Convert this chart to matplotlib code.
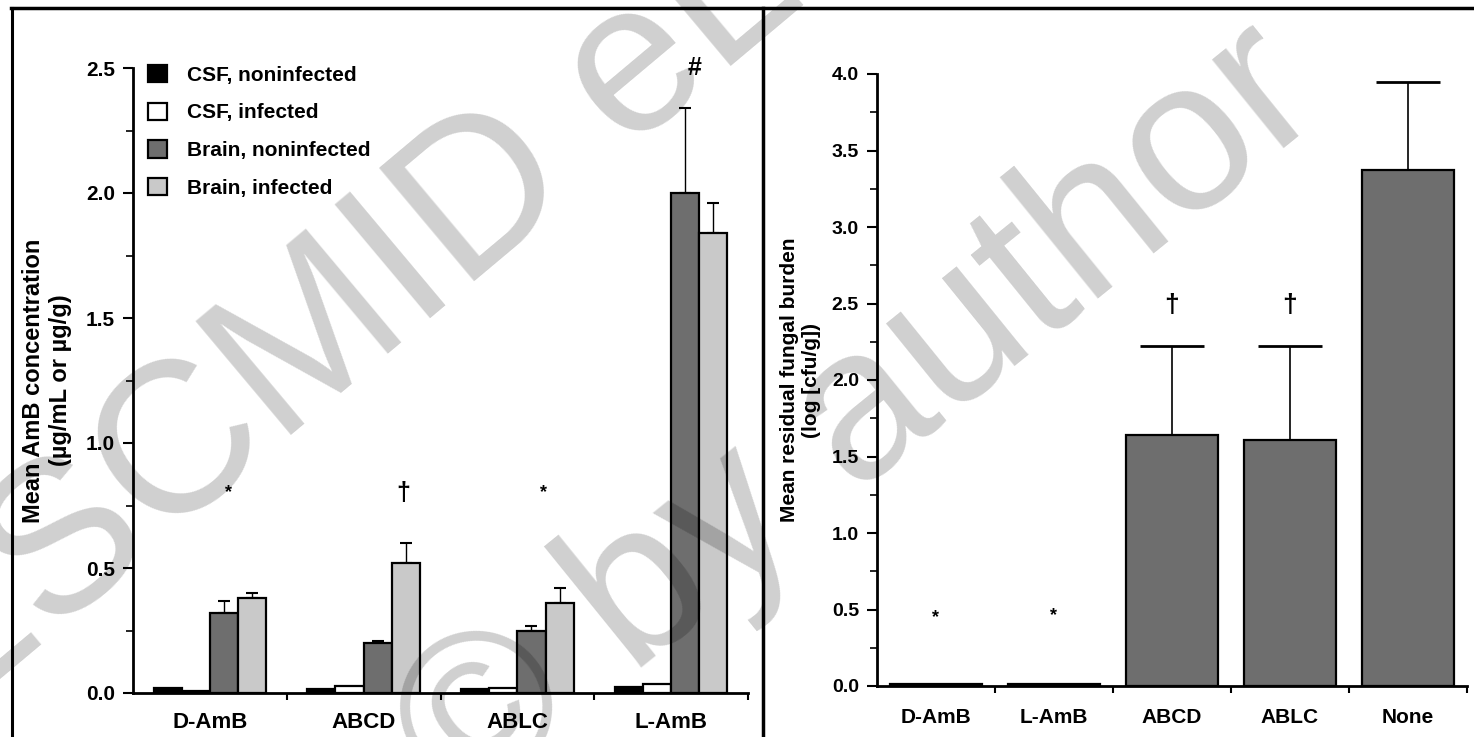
import numpy as np
import matplotlib
matplotlib.use("Agg")
import matplotlib.pyplot as plt
from matplotlib.lines import Line2D

plt.rcParams['font.family'] = ['Liberation Sans', 'DejaVu Sans']
plt.rcParams['font.weight'] = 'bold'

# left panel: AmB concentrations
drugs_left = ["D-AmB", "ABCD", "ABLC", "L-AmB"]
series_names = ["CSF, noninfected", "CSF, infected", "Brain, noninfected", "Brain, infected"]
csf_noninf = [0.02, 0.015, 0.015, 0.025]
csf_inf = [0.01, 0.03, 0.02, 0.035]
brain_noninf = [0.32, 0.20, 0.25, 2.00]
brain_noninf_sd = [0.05, 0.01, 0.02, 0.34]
brain_inf = [0.38, 0.52, 0.36, 1.84]
brain_inf_sd = [0.02, 0.08, 0.06, 0.12]
marks_left = ["*", "\u2020", "*", "#"]
marks_left_y = [0.80, 0.80, 0.80, 2.50]

# right panel: fungal burden
drugs_right = ["D-AmB", "L-AmB", "ABCD", "ABLC", "None"]
burden = [0.01, 0.01, 1.64, 1.61, 3.37]
burden_sd = [0.0, 0.0, 0.58, 0.61, 0.58]
marks_right = ["*", "*", "\u2020", "\u2020", ""]
marks_right_y = [0.45, 0.46, 2.49, 2.49, 0]

colors = ["black", "white", "#6e6e6e", "#c9c9c9"]

fig = plt.figure(figsize=(14.74, 7.37), dpi=100)

# ---- left ----
ax1 = fig.add_axes([133/1474, 44/737, 615/1474, 625/737])
x = np.arange(len(drugs_left))
w = 0.183
all_vals = [csf_noninf, csf_inf, brain_noninf, brain_inf]
all_sd = [None, None, brain_noninf_sd, brain_inf_sd]
for i, (vals, sd) in enumerate(zip(all_vals, all_sd)):
    pos = x + (i - 1.5) * w
    ax1.bar(pos, vals, w, color=colors[i], edgecolor="black", linewidth=1.6,
            label=series_names[i], zorder=2)
    if sd is not None:
        ax1.errorbar(pos, vals, yerr=[np.zeros(len(sd)), sd], fmt="none",
                     ecolor="black", elinewidth=1, capsize=4, capthick=1.5, zorder=1)

mark_dx = [0.12, 0.26, 0.17, 0.15]
for i, m in enumerate(marks_left):
    fs = 13 if m == "*" else 18
    ax1.text(x[i] + mark_dx[i], marks_left_y[i], m, ha="center", va="center",
             fontsize=fs, fontweight="bold", clip_on=False)

ax1.set_xlim(-0.5, 3.5)
ax1.set_ylim(0, 2.5)
ax1.set_yticks(np.arange(0, 2.51, 0.5))
ax1.set_yticks(np.arange(0, 2.51, 0.25), minor=True)
ax1.set_yticklabels(["0.0", "0.5", "1.0", "1.5", "2.0", "2.5"])
ax1.set_xticks(x)
ax1.set_xticklabels(drugs_left)
ax1.set_xticks(np.arange(0.5, 3.6, 1), minor=True)
ax1.tick_params(axis="x", which="major", length=0, pad=14, labelsize=16)
ax1.tick_params(axis="x", which="minor", length=5, width=1.5, direction="out")
ax1.tick_params(axis="y", which="major", length=7, width=1.5, labelsize=15, pad=6)
ax1.tick_params(axis="y", which="minor", length=5, width=1.2)
ax1.set_ylabel("Mean AmB concentration\n(\u00b5g/mL or \u00b5g/g)", fontsize=17,
               fontweight="bold", labelpad=10)
for s in ["top", "right"]:
    ax1.spines[s].set_visible(False)
for s in ["left", "bottom"]:
    ax1.spines[s].set_linewidth(2)
leg = ax1.legend(loc="upper left", bbox_to_anchor=(0.024, 1.005), frameon=False,
                 fontsize=15, handlelength=0.9, handleheight=0.9, labelspacing=0.86,
                 handletextpad=1.0, borderpad=0, borderaxespad=0)

# ---- right ----
ax2 = fig.add_axes([877/1474, 51/737, 590/1474, 612/737])
xr = np.arange(len(drugs_right))
ax2.bar(xr, burden, 0.78, color="#6e6e6e", edgecolor="black", linewidth=1.6, zorder=2)
has_sd = np.array(burden_sd) > 0
ax2.errorbar(xr[has_sd], np.array(burden)[has_sd],
             yerr=[np.zeros(has_sd.sum()), np.array(burden_sd)[has_sd]],
             fmt="none", ecolor="black", elinewidth=1.2, capsize=23, capthick=2, zorder=1)
for i, m in enumerate(marks_right):
    if m:
        fs = 13 if m == "*" else 19
        ax2.text(xr[i], marks_right_y[i], m, ha="center", va="center",
                 fontsize=fs, fontweight="bold")
ax2.set_xlim(-0.5, 4.5)
ax2.set_ylim(0, 4.0)
ax2.set_yticks(np.arange(0, 4.01, 0.5))
ax2.set_yticks(np.arange(0, 4.01, 0.25), minor=True)
ax2.set_yticklabels(["%.1f" % v for v in np.arange(0, 4.01, 0.5)])
ax2.set_xticks(xr)
ax2.set_xticklabels(drugs_right)
ax2.set_xticks(np.arange(0.5, 4.6, 1), minor=True)
ax2.tick_params(axis="x", which="major", length=0, pad=16, labelsize=15)
ax2.tick_params(axis="x", which="minor", length=5, width=1.5, direction="out")
ax2.tick_params(axis="y", which="major", length=7, width=1.5, labelsize=14, pad=6)
ax2.tick_params(axis="y", which="minor", length=5, width=1.2)
ax2.set_ylabel("Mean residual fungal burden\n(log [cfu/g])", fontsize=15,
               fontweight="bold", labelpad=8)
for s in ["top", "right"]:
    ax2.spines[s].set_visible(False)
for s in ["left", "bottom"]:
    ax2.spines[s].set_linewidth(2)

# frame lines
top = 1 - 8/737
fig.add_artist(Line2D([11/1474, 1], [top, top], transform=fig.transFigure, color="black", lw=2.5))
fig.add_artist(Line2D([12/1474, 12/1474], [0, top], transform=fig.transFigure, color="black", lw=2.2))
fig.add_artist(Line2D([763/1474, 763/1474], [0, top], transform=fig.transFigure, color="black", lw=2.5))

# watermark
fig.text(545/1474, 1 - 150/737, "ESCMID eLibrary", fontsize=155, color="black", alpha=0.19,
         rotation=40, ha="center", va="center", rotation_mode="anchor", fontweight="normal")
fig.text(860/1474, 1 - 420/737, "\u00a9 by author", fontsize=155, color="black", alpha=0.19,
         rotation=39, ha="center", va="center", rotation_mode="anchor", fontweight="normal")

fig.savefig("out.png", dpi=100)
